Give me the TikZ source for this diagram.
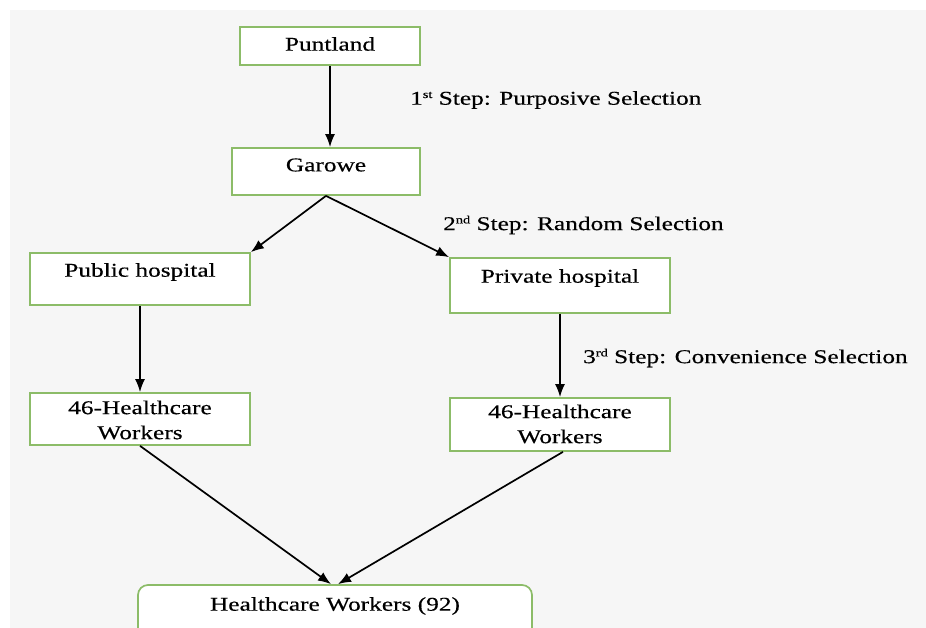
\documentclass[tikz,border=0pt]{standalone}
\usepackage{fontspec}
\setmainfont[FakeStretch=1.3,FakeBold=0.4]{Liberation Serif}
\usetikzlibrary{arrows.meta}
\definecolor{bggray}{RGB}{246,246,246}
\definecolor{boxgreen}{RGB}{140,188,104}
\newcommand{\mysup}[1]{\raisebox{0.75ex}{\fontsize{11}{11}\selectfont #1}}
\tikzset{
  box/.style={draw=boxgreen, line width=1.7pt, fill=white, inner sep=0pt},
  txt/.style={font=\fontsize{19.5}{25}\selectfont, inner sep=0pt, align=center},
  lbl/.style={font=\fontsize{19.5}{25}\selectfont, inner sep=0pt, anchor=west},
  arr/.style={line width=1.7pt, -{Latex[length=13pt,width=10pt]}}
}
\begin{document}
\begin{tikzpicture}[x=1pt,y=-1pt]
\useasboundingbox (0,0) rectangle (926,628);
\clip (0,0) rectangle (926,628);
\fill[bggray] (10,10) rectangle (926,628);

% boxes
\node[box, minimum width=180pt, minimum height=38pt] (pun) at (330,46) {};
\node[box, minimum width=188pt, minimum height=47pt] (gar) at (326,171.5) {};
\node[box, minimum width=220pt, minimum height=52pt] (pub) at (140,279) {};
\node[box, minimum width=220pt, minimum height=55pt] (pri) at (560,285.5) {};
\node[box, minimum width=220pt, minimum height=52pt] (lw) at (140,419) {};
\node[box, minimum width=220pt, minimum height=53pt] (rw) at (560,424.5) {};
\node[box, rounded corners=10pt, minimum width=394pt, minimum height=70pt] (hw) at (335,620) {};

% texts
\node[txt] (punt) at (330,44) {Puntland};
\node[txt] (gart) at (326,165) {Garowe};
\node[txt] (pubt) at (140,272) {Public hospital};
\node[txt] (prit) at (560,278) {Private hospital};
\node[txt] (lwt) at (140,420) {46-Healthcare\\Workers};
\node[txt] (rwt) at (560,424) {46-Healthcare\\Workers};
\node[txt] (hwt) at (335,606) {Healthcare Workers (92)};

% step labels
\node[lbl] (s1) at (410,100) {1\mysup{st} Step: Purposive Selection};
\node[lbl] (s2) at (443,225) {2\mysup{nd} Step: Random Selection};
\node[lbl] (s3) at (583,358) {3\mysup{rd} Step: Convenience Selection};

% connectors
\draw[arr] (pun.south) -- (pun.south |- gar.north);
\draw[arr] (gar.south) -- (pub.north east);
\draw[arr] (gar.south) -- (pri.north west);
\draw[arr] (pub.south) -- (lw.north);
\draw[arr] (pri.south) -- (rw.north);
\draw[arr] (lw.south) -- ([xshift=-4pt]hw.north);
\draw[arr] ([xshift=3pt]rw.south) -- ([xshift=3pt]hw.north);
\end{tikzpicture}
\end{document}
